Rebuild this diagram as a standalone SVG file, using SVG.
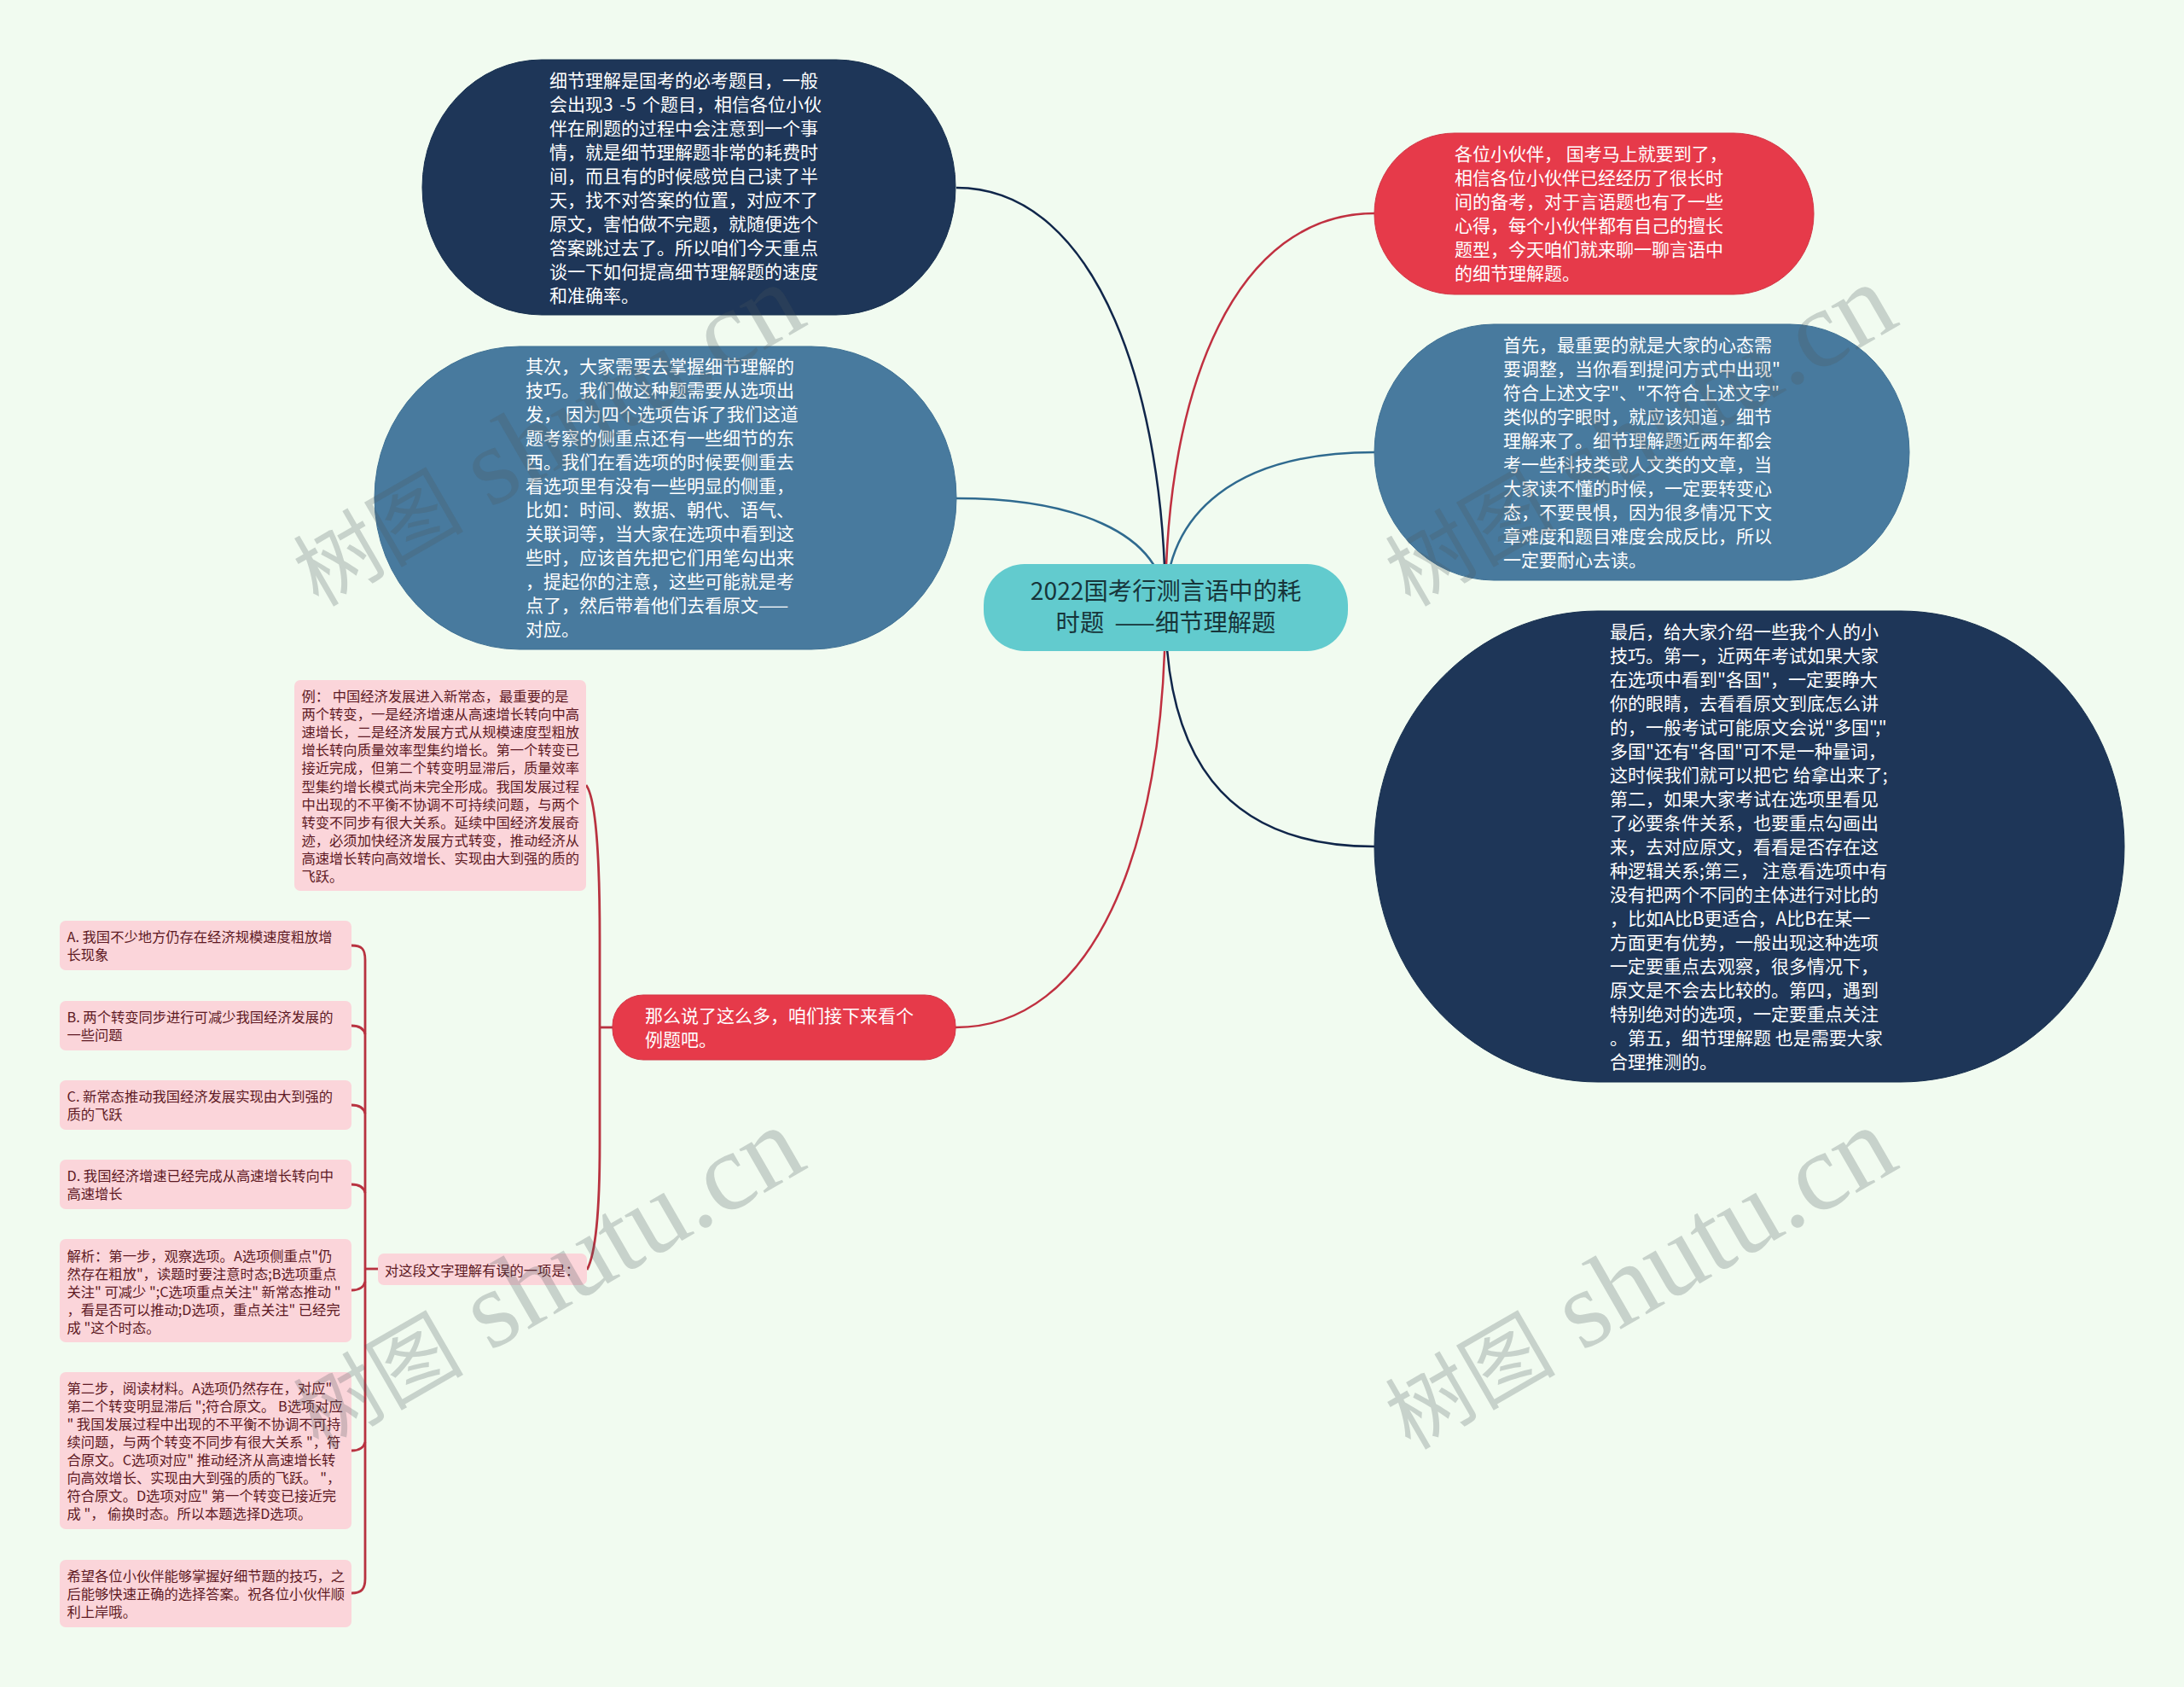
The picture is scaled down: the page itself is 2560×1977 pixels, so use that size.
<svg xmlns="http://www.w3.org/2000/svg" width="2560" height="1977" viewBox="0 0 2560 1977">
<style>
text{font-family:"Noto Sans CJK SC","Liberation Sans",sans-serif}
.c{fill:none;stroke-width:2.5}
.cd{stroke:#10264a}.cr{stroke:#c03040}.cb{stroke:#2f6a8f}
.cp{fill:none;stroke:#b83240;stroke-width:2.8}
.dk{fill:#1e3658;stroke:#17304f}.bl{fill:#487a9e;stroke:#3f7194}.rd{fill:#e63a4a;stroke:#d23645}
.t{font-size:21px;fill:#fff}
.p{fill:#fbd5da}
.pt{font-size:16.3px;fill:#5e1a24}
.wm{font-family:"Liberation Serif","Noto Sans CJK SC",serif;fill:#4d575c;fill-opacity:.25}
</style>
<rect id="background" width="2560" height="1977" fill="#f1fbf0"/>
<g id="connectors">
<path class="c cd" d="M1121 220C1290 220 1366 470 1366 712"/>
<path class="c cb" d="M1121 584C1250 584 1366 620 1366 712"/>
<path class="c cr" d="M1611 250C1450 250 1366 450 1366 712"/>
<path class="c cb" d="M1611 530C1450 530 1366 600 1366 712"/>
<path class="c cd" d="M1611 992C1430 992 1366 880 1366 712"/>
<path class="c cr" d="M1120 1204C1280 1204 1366 1000 1366 712"/>
<path class="cp" d="M718 1204H703"/>
<path class="cp" d="M687 920C698 935 703 1000 703 1100V1340C703 1420 698 1470 688 1488"/>
<path class="cp" d="M443 1487H428"/>
<path class="cp" d="M412 1108C424 1108 428 1112 428 1125V1850C428 1862 424 1867 412 1867"/>
<path class="cp" d="M412 1202C420 1202 426 1204 428 1212"/>
<path class="cp" d="M412 1295C420 1295 426 1297 428 1305"/>
<path class="cp" d="M412 1388C420 1388 426 1390 428 1398"/>
<path class="cp" d="M412 1512C420 1512 426 1510 428 1502"/>
<path class="cp" d="M412 1700C420 1700 426 1698 428 1690"/>
</g>
<g id="root">
<rect x="1153" y="661" width="427" height="102" rx="48" fill="#62cbce"/>
<text x="1366.500" y="703" font-size="28.300" fill="#17353a" text-anchor="middle"><tspan x="1366.500">2022国考行测言语中的耗</tspan><tspan x="1366.500" dy="37" word-spacing="6">时题 ——细节理解题</tspan></text>
</g>
<g id="node-intro-left">
<rect class="dk" x="495" y="70" width="625" height="299" rx="140" ry="149"/>
<text class="t" y="102"><tspan x="644">细节理解是国考的必考题目，一般</tspan><tspan x="644" dy="28" word-spacing="3">会出现3 -5 个题目，相信各位小伙</tspan><tspan x="644" dy="28">伴在刷题的过程中会注意到一个事</tspan><tspan x="644" dy="28">情，就是细节理解题非常的耗费时</tspan><tspan x="644" dy="28">间，而且有的时候感觉自己读了半</tspan><tspan x="644" dy="28">天，找不对答案的位置，对应不了</tspan><tspan x="644" dy="28">原文，害怕做不完题，就随便选个</tspan><tspan x="644" dy="28">答案跳过去了。所以咱们今天重点</tspan><tspan x="644" dy="28">谈一下如何提高细节理解题的速度</tspan><tspan x="644" dy="28">和准确率。</tspan></text>
</g>
<g id="node-second">
<rect class="bl" x="439" y="406" width="682" height="355" rx="170" ry="177"/>
<text class="t" y="437"><tspan x="616">其次，大家需要去掌握细节理解的</tspan><tspan x="616" dy="28">技巧。我们做这种题需要从选项出</tspan><tspan x="616" dy="28">发， 因为四个选项告诉了我们这道</tspan><tspan x="616" dy="28">题考察的侧重点还有一些细节的东</tspan><tspan x="616" dy="28">西。我们在看选项的时候要侧重去</tspan><tspan x="616" dy="28">看选项里有没有一些明显的侧重，</tspan><tspan x="616" dy="28">比如：时间、数据、朝代、语气、</tspan><tspan x="616" dy="28">关联词等，当大家在选项中看到这</tspan><tspan x="616" dy="28">些时，应该首先把它们用笔勾出来</tspan><tspan x="616" dy="28">，提起你的注意，这些可能就是考</tspan><tspan x="616" dy="28">点了，然后带着他们去看原文——</tspan><tspan x="616" dy="28">对应。</tspan></text>
</g>
<g id="node-intro-right">
<rect class="rd" x="1611" y="156" width="515" height="189" rx="94"/>
<text class="t" y="188"><tspan x="1705">各位小伙伴， 国考马上就要到了，</tspan><tspan x="1705" dy="28">相信各位小伙伴已经经历了很长时</tspan><tspan x="1705" dy="28">间的备考，对于言语题也有了一些</tspan><tspan x="1705" dy="28">心得，每个小伙伴都有自己的擅长</tspan><tspan x="1705" dy="28">题型，今天咱们就来聊一聊言语中</tspan><tspan x="1705" dy="28">的细节理解题。</tspan></text>
</g>
<g id="node-first">
<rect class="bl" x="1611" y="380" width="627" height="300" rx="140" ry="150"/>
<text class="t" y="412"><tspan x="1762">首先，最重要的就是大家的心态需</tspan><tspan x="1762" dy="28">要调整，当你看到提问方式中出现"</tspan><tspan x="1762" dy="28">符合上述文字"、"不符合上述文字"</tspan><tspan x="1762" dy="28">类似的字眼时，就应该知道，细节</tspan><tspan x="1762" dy="28">理解来了。细节理解题近两年都会</tspan><tspan x="1762" dy="28">考一些科技类或人文类的文章，当</tspan><tspan x="1762" dy="28">大家读不懂的时候，一定要转变心</tspan><tspan x="1762" dy="28">态，不要畏惧，因为很多情况下文</tspan><tspan x="1762" dy="28">章难度和题目难度会成反比，所以</tspan><tspan x="1762" dy="28">一定要耐心去读。</tspan></text>
</g>
<g id="node-last">
<rect class="dk" x="1611" y="716" width="879" height="552" rx="262" ry="276"/>
<text class="t" y="748"><tspan x="1887">最后，给大家介绍一些我个人的小</tspan><tspan x="1887" dy="28">技巧。第一，近两年考试如果大家</tspan><tspan x="1887" dy="28">在选项中看到"各国"，一定要睁大</tspan><tspan x="1887" dy="28">你的眼睛，去看看原文到底怎么讲</tspan><tspan x="1887" dy="28">的，一般考试可能原文会说"多国","</tspan><tspan x="1887" dy="28">多国"还有"各国"可不是一种量词，</tspan><tspan x="1887" dy="28">这时候我们就可以把它 给拿出来了;</tspan><tspan x="1887" dy="28">第二，如果大家考试在选项里看见</tspan><tspan x="1887" dy="28">了必要条件关系，也要重点勾画出</tspan><tspan x="1887" dy="28">来，去对应原文，看看是否存在这</tspan><tspan x="1887" dy="28">种逻辑关系;第三， 注意看选项中有</tspan><tspan x="1887" dy="28">没有把两个不同的主体进行对比的</tspan><tspan x="1887" dy="28">，比如A比B更适合，A比B在某一</tspan><tspan x="1887" dy="28">方面更有优势，一般出现这种选项</tspan><tspan x="1887" dy="28">一定要重点去观察，很多情况下，</tspan><tspan x="1887" dy="28">原文是不会去比较的。第四，遇到</tspan><tspan x="1887" dy="28">特别绝对的选项，一定要重点关注</tspan><tspan x="1887" dy="28">。第五，细节理解题 也是需要大家</tspan><tspan x="1887" dy="28">合理推测的。</tspan></text>
</g>
<g id="node-example">
<rect class="rd" x="718" y="1166" width="402" height="76" rx="36"/>
<text class="t" y="1198"><tspan x="756">那么说了这么多，咱们接下来看个</tspan><tspan x="756" dy="28">例题吧。</tspan></text>
</g>
<g id="leaf-passage">
<rect class="p" x="345" y="797" width="342" height="247" rx="7"/>
<text class="pt" y="822"><tspan x="353.500">例： 中国经济发展进入新常态，最重要的是</tspan><tspan x="353.500" dy="21.100">两个转变，一是经济增速从高速增长转向中高</tspan><tspan x="353.500" dy="21.100">速增长，二是经济发展方式从规模速度型粗放</tspan><tspan x="353.500" dy="21.100">增长转向质量效率型集约增长。第一个转变已</tspan><tspan x="353.500" dy="21.100">接近完成，但第二个转变明显滞后，质量效率</tspan><tspan x="353.500" dy="21.100">型集约增长模式尚未完全形成。我国发展过程</tspan><tspan x="353.500" dy="21.100">中出现的不平衡不协调不可持续问题，与两个</tspan><tspan x="353.500" dy="21.100">转变不同步有很大关系。延续中国经济发展奇</tspan><tspan x="353.500" dy="21.100">迹，必须加快经济发展方式转变，推动经济从</tspan><tspan x="353.500" dy="21.100">高速增长转向高效增长、实现由大到强的质的</tspan><tspan x="353.500" dy="21.100">飞跃。</tspan></text>
</g>
<g id="leaf-question">
<rect class="p" x="443" y="1469" width="245" height="37" rx="7"/>
<text class="pt" x="451" y="1495">对这段文字理解有误的一项是：</text>
</g>
<g id="leaf-a">
<rect class="p" x="70" y="1079" width="342" height="58" rx="7"/>
<text class="pt" y="1104"><tspan x="78.500">A. 我国不少地方仍存在经济规模速度粗放增</tspan><tspan x="78.500" dy="21">长现象</tspan></text>
</g>
<g id="leaf-b">
<rect class="p" x="70" y="1173" width="342" height="58" rx="7"/>
<text class="pt" y="1198"><tspan x="78.500">B. 两个转变同步进行可减少我国经济发展的</tspan><tspan x="78.500" dy="21">一些问题</tspan></text>
</g>
<g id="leaf-c">
<rect class="p" x="70" y="1266" width="342" height="58" rx="7"/>
<text class="pt" y="1291"><tspan x="78.500">C. 新常态推动我国经济发展实现由大到强的</tspan><tspan x="78.500" dy="21">质的飞跃</tspan></text>
</g>
<g id="leaf-d">
<rect class="p" x="70" y="1359" width="342" height="58" rx="7"/>
<text class="pt" y="1384"><tspan x="78.500">D. 我国经济增速已经完成从高速增长转向中</tspan><tspan x="78.500" dy="21">高速增长</tspan></text>
</g>
<g id="leaf-step1">
<rect class="p" x="70" y="1452" width="342" height="121" rx="7"/>
<text class="pt" y="1478"><tspan x="78.500">解析：第一步，观察选项。A选项侧重点"仍</tspan><tspan x="78.500" dy="21">然存在粗放"，读题时要注意时态;B选项重点</tspan><tspan x="78.500" dy="21">关注" 可减少 ";C选项重点关注" 新常态推动 "</tspan><tspan x="78.500" dy="21">，看是否可以推动;D选项，重点关注" 已经完</tspan><tspan x="78.500" dy="21">成 "这个时态。</tspan></text>
</g>
<g id="leaf-step2">
<rect class="p" x="70" y="1608" width="342" height="184" rx="7"/>
<text class="pt" y="1633"><tspan x="78.500">第二步，阅读材料。A选项仍然存在，对应"</tspan><tspan x="78.500" dy="21">第二个转变明显滞后 ";符合原文。 B选项对应</tspan><tspan x="78.500" dy="21">" 我国发展过程中出现的不平衡不协调不可持</tspan><tspan x="78.500" dy="21">续问题，与两个转变不同步有很大关系 "，符</tspan><tspan x="78.500" dy="21">合原文。C选项对应" 推动经济从高速增长转</tspan><tspan x="78.500" dy="21">向高效增长、实现由大到强的质的飞跃。 "，</tspan><tspan x="78.500" dy="21">符合原文。D选项对应" 第一个转变已接近完</tspan><tspan x="78.500" dy="21">成 "， 偷换时态。所以本题选择D选项。</tspan></text>
</g>
<g id="leaf-end">
<rect class="p" x="70" y="1828" width="342" height="79" rx="7"/>
<text class="pt" y="1853"><tspan x="78.500">希望各位小伙伴能够掌握好细节题的技巧，之</tspan><tspan x="78.500" dy="21">后能够快速正确的选择答案。祝各位小伙伴顺</tspan><tspan x="78.500" dy="21">利上岸哦。</tspan></text>
</g>
<g id="watermarks">
<text class="wm" transform="translate(373 712) rotate(-30)"><tspan font-size="100">树图</tspan><tspan font-size="129" dx="32">shutu.cn</tspan></text>
<text class="wm" transform="translate(1653 712) rotate(-30)"><tspan font-size="100">树图</tspan><tspan font-size="129" dx="32">shutu.cn</tspan></text>
<text class="wm" transform="translate(373 1700) rotate(-30)"><tspan font-size="100">树图</tspan><tspan font-size="129" dx="32">shutu.cn</tspan></text>
<text class="wm" transform="translate(1653 1700) rotate(-30)"><tspan font-size="100">树图</tspan><tspan font-size="129" dx="32">shutu.cn</tspan></text>
</g>
</svg>
